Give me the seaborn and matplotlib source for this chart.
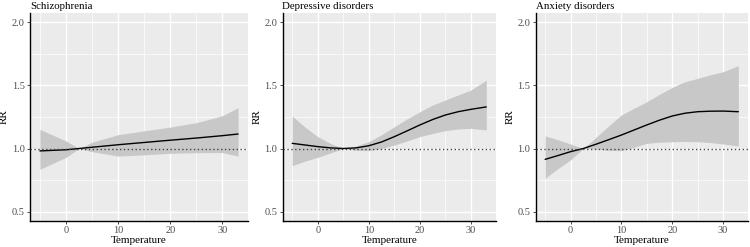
import matplotlib
matplotlib.use("Agg")
import matplotlib.pyplot as plt
import seaborn as sns
import pandas as pd
import numpy as np
from matplotlib.ticker import MultipleLocator

sns.set_theme(style="darkgrid")
plt.rcParams['font.family'] = ['Liberation Serif', 'DejaVu Serif']

titles = ["Schizophrenia", "Depressive disorders", "Anxiety disorders"]

temp_schiz = [-5, 0, 2.5, 5, 10, 15, 20, 25, 30, 33]
rr_schiz = [0.981, 0.99, 1.0, 1.01, 1.03, 1.048, 1.066, 1.083, 1.102, 1.115]
lo_schiz = [0.835, 0.93, 1.0, 0.975, 0.94, 0.95, 0.962, 0.967, 0.968, 0.94]
hi_schiz = [1.152, 1.06, 1.0, 1.05, 1.11, 1.14, 1.17, 1.205, 1.26, 1.324]

temp_dep = [-5, -2.5, 0, 2.5, 5, 7.5, 10, 12.5, 15, 17.5, 20, 22.5, 25, 27.5, 30, 33]
rr_dep = [1.041, 1.028, 1.015, 1.005, 1.0, 1.005, 1.022, 1.052, 1.094, 1.14, 1.187, 1.23, 1.266, 1.292, 1.311, 1.33]
lo_dep = [0.864, 0.9, 0.93, 0.965, 1.0, 0.985, 0.983, 1.0, 1.028, 1.06, 1.094, 1.12, 1.142, 1.155, 1.16, 1.147]
hi_dep = [1.258, 1.17, 1.094, 1.04, 1.0, 1.02, 1.055, 1.11, 1.173, 1.235, 1.292, 1.345, 1.385, 1.425, 1.464, 1.543]

temp_anx = [-5, -2.5, 0, 2.5, 5, 7.5, 10, 12.5, 15, 17.5, 20, 22.5, 25, 27.5, 30, 33]
rr_anx = [0.914, 0.944, 0.975, 1.0, 1.034, 1.07, 1.107, 1.147, 1.187, 1.225, 1.258, 1.28, 1.292, 1.296, 1.297, 1.292]
lo_anx = [0.764, 0.84, 0.91, 1.0, 0.996, 0.985, 0.983, 1.01, 1.041, 1.05, 1.054, 1.056, 1.054, 1.047, 1.036, 1.02]
hi_anx = [1.1, 1.07, 1.036, 1.0, 1.089, 1.18, 1.266, 1.32, 1.371, 1.43, 1.485, 1.53, 1.556, 1.585, 1.609, 1.657]

series = [
    (temp_schiz, rr_schiz, lo_schiz, hi_schiz),
    (temp_dep, rr_dep, lo_dep, hi_dep),
    (temp_anx, rr_anx, lo_anx, hi_anx),
]

fig = plt.figure(figsize=(7.5, 2.47), dpi=100)
lefts = [30 / 750, 282.5 / 750, 535.5 / 750]
rights = [248 / 750, 496 / 750, 748 / 750]
bottom = 1 - 221 / 247
top = 1 - 13 / 247

for i, (t, rr, lo, hi) in enumerate(series):
    ax = fig.add_axes([lefts[i], bottom, rights[i] - lefts[i], top - bottom])
    ax.set_facecolor("#EBEBEB")
    ax.set_xlim(-6.9, 34.9)
    ax.set_ylim(0.425, 2.075)
    ax.xaxis.set_major_locator(MultipleLocator(10))
    ax.xaxis.set_minor_locator(MultipleLocator(5))
    ax.yaxis.set_major_locator(MultipleLocator(0.5))
    ax.yaxis.set_minor_locator(MultipleLocator(0.25))
    ax.grid(which="major", color="white", linewidth=1.0)
    ax.grid(which="minor", color="white", linewidth=0.5)
    ax.set_axisbelow(True)
    ax.fill_between(t, lo, hi, color="#C8C8C8", linewidth=0, zorder=2)
    df = pd.DataFrame({"Temperature": t, "RR": rr})
    sns.lineplot(data=df, x="Temperature", y="RR", ax=ax, color="black", linewidth=1.0, zorder=3)
    ax.axhline(1.0, color="#444444", linestyle=(0, (1, 1.8)), linewidth=1.0, zorder=4)
    for s in ["top", "right"]:
        ax.spines[s].set_visible(False)
    for s in ["left", "bottom"]:
        ax.spines[s].set_visible(True)
        ax.spines[s].set_color("black")
        ax.spines[s].set_linewidth(1.0)
    ax.tick_params(axis="both", which="major", length=2.2, width=0.6, color="#333333",
                   labelsize=7.5, labelcolor="#4D4D4D", pad=1.5, bottom=True, left=True)
    ax.tick_params(axis="both", which="minor", length=0)
    ax.set_yticks([0.5, 1.0, 1.5, 2.0])
    ax.set_yticklabels(["0.5", "1.0", "1.5", "2.0"])
    ax.set_xticks([0, 10, 20, 30])
    ax.set_xticklabels(["0", "10", "20", "30"])
    ax.set_xlabel("Temperature", fontsize=8, color="black", labelpad=0.5)
    ax.set_ylabel("RR", fontsize=8, color="black", labelpad=2)
    ax.set_title(titles[i], loc="left", fontsize=7.8, color="black", pad=3, x=0.0)

fig.savefig("out.png", dpi=100)
